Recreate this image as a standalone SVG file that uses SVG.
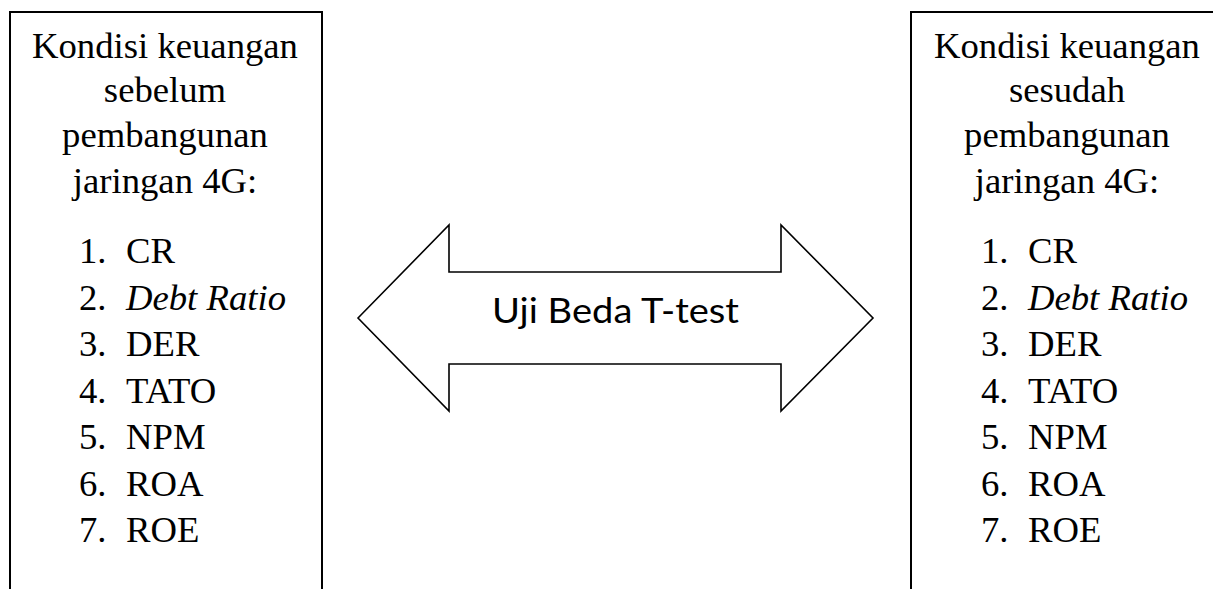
<svg xmlns="http://www.w3.org/2000/svg" width="1213" height="589" viewBox="0 0 1213 589">
<style>
.box{fill:#fff;stroke:#000;stroke-width:2}
.arr{fill:#fff;stroke:#000;stroke-width:1.6;stroke-linejoin:miter}
.t{font-family:"Liberation Serif","Times New Roman",serif;font-size:36.7px;fill:#000}
.h{text-anchor:middle}
.i{font-style:italic}
.c{font-family:Lato,"Open Sans",sans-serif;font-size:35px;fill:#000}
</style>
<rect width="1213" height="589" fill="#fff"/>
<g id="left-box">
<rect class="box" x="10" y="12" width="312" height="600"/>
<text class="t h" x="165" y="58">Kondisi keuangan</text>
<text class="t h" x="165" y="102">sebelum</text>
<text class="t h" x="165" y="147">pembangunan</text>
<text class="t h" x="165" y="193">jaringan 4G:</text>
<text class="t" x="79" y="263">1.</text><text class="t" x="126" y="263">CR</text>
<text class="t" x="79" y="309.5">2.</text><text class="t i" x="126" y="309.5">Debt Ratio</text>
<text class="t" x="79" y="356">3.</text><text class="t" x="126" y="356">DER</text>
<text class="t" x="79" y="402.5">4.</text><text class="t" x="126" y="402.5">TATO</text>
<text class="t" x="79" y="449">5.</text><text class="t" x="126" y="449">NPM</text>
<text class="t" x="79" y="495.5">6.</text><text class="t" x="126" y="495.5">ROA</text>
<text class="t" x="79" y="542">7.</text><text class="t" x="126" y="542">ROE</text>
</g>
<g id="right-box">
<rect class="box" x="911" y="12" width="320" height="600"/>
<text class="t h" x="1067" y="58">Kondisi keuangan</text>
<text class="t h" x="1067" y="102">sesudah</text>
<text class="t h" x="1067" y="147">pembangunan</text>
<text class="t h" x="1067" y="193">jaringan 4G:</text>
<text class="t" x="981" y="263">1.</text><text class="t" x="1028" y="263">CR</text>
<text class="t" x="981" y="309.5">2.</text><text class="t i" x="1028" y="309.5">Debt Ratio</text>
<text class="t" x="981" y="356">3.</text><text class="t" x="1028" y="356">DER</text>
<text class="t" x="981" y="402.5">4.</text><text class="t" x="1028" y="402.5">TATO</text>
<text class="t" x="981" y="449">5.</text><text class="t" x="1028" y="449">NPM</text>
<text class="t" x="981" y="495.5">6.</text><text class="t" x="1028" y="495.5">ROA</text>
<text class="t" x="981" y="542">7.</text><text class="t" x="1028" y="542">ROE</text>
</g>
<g id="connectors">
<g id="t-test-arrow">
<polygon class="arr" points="358,318 449,225 449,272 781,272 781,225 873,318 781,411 781,364 449,364 449,411"/>
<text class="c" x="492" y="323" textLength="247" lengthAdjust="spacingAndGlyphs">Uji Beda T-test</text>
</g>
</g>
</svg>
